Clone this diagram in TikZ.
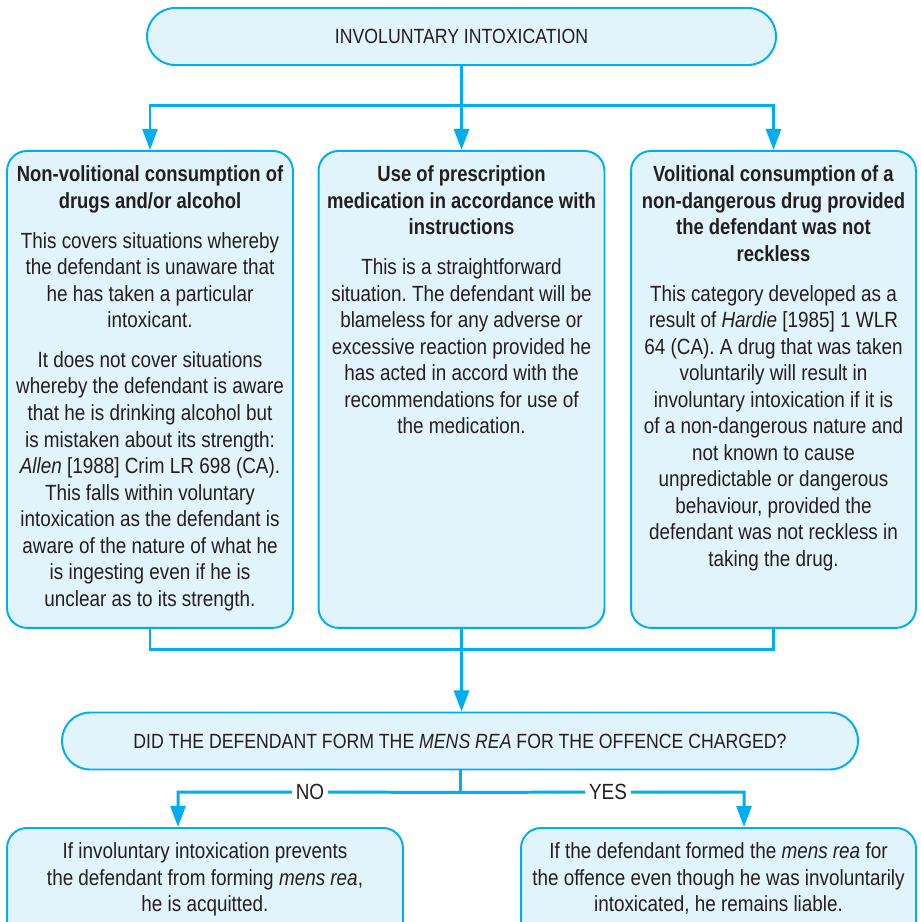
\documentclass[tikz,border=0pt]{standalone}
\usepackage{fontspec}
\setmainfont{Liberation Sans}[FakeStretch=0.86, BoldFeatures={FakeStretch=0.84}]
\usepackage{xcolor}
\usepackage{tikz}
\usetikzlibrary{positioning, arrows.meta}

\definecolor{boxblue}{HTML}{E1F3FB}
\definecolor{lineblue}{HTML}{00AEEF}
\definecolor{inkgrey}{HTML}{231F20}

\newcommand{\panel}[3]{\parbox[t][#2][t]{#1}{\centering\vspace*{0.3cm}#3}}

\begin{document}
\frenchspacing
\begin{tikzpicture}[
    x=0.02cm, y=-0.02cm,
    every node/.style={text=inkgrey, font=\fontsize{12.5}{15.1}\selectfont},
    heading/.style={rectangle, draw=lineblue, fill=boxblue, line width=1.1pt, rounded corners=0.56cm, minimum height=1.14cm, align=center, font=\fontsize{11.7}{14}\selectfont},
    panel/.style={rectangle, draw=lineblue, fill=boxblue, line width=1.1pt, rounded corners=0.4cm, inner sep=0pt, anchor=north},
    link/.style={draw=lineblue, line width=1.7pt},
    flow/.style={link, -{Triangle[length=12pt, width=8.5pt]}},
    answer/.style={fill=white, inner sep=2pt}
]
\useasboundingbox (0,0) rectangle (920,922);

\node[heading, minimum width=12.58cm] (involuntary) at (461.5,36.5) {INVOLUNTARY INTOXICATION};

\node[panel] (nonvol) at (150,150) {\panel{5.72cm}{9.54cm}{%
\textbf{Non-volitional consumption of}\\
\textbf{drugs and/or alcohol}\\[7.5pt]
This covers situations whereby\\
the defendant is unaware that\\
he has taken a particular\\
intoxicant.\\[7.5pt]
It does not cover situations\\
whereby the defendant is aware\\
that he is drinking alcohol but\\
is mistaken about its strength:\\
\textit{Allen} [1988] Crim LR 698 (CA).\\
This falls within voluntary\\
intoxication as the defendant is\\
aware of the nature of what he\\
is ingesting even if he is\\
unclear as to its strength.}};
\node[panel] (prescription) at (461.5,150) {\panel{5.72cm}{9.54cm}{%
\textbf{Use of prescription}\\
\textbf{medication in accordance with}\\
\textbf{instructions}\\[7.5pt]
This is a straightforward\\
situation. The defendant will be\\
blameless for any adverse or\\
excessive reaction provided he\\
has acted in accord with the\\
recommendations for use of\\
the medication.}};
\node[panel] (volitional) at (773.5,150) {\panel{5.7cm}{9.54cm}{%
\textbf{Volitional consumption of a}\\
\textbf{non-dangerous drug provided}\\
\textbf{the defendant was not}\\
\textbf{reckless}\\[7.5pt]
This category developed as a\\
result of \textit{Hardie} [1985] 1 WLR\\
64 (CA). A drug that was taken\\
voluntarily will result in\\
involuntary intoxication if it is\\
of a non-dangerous nature and\\
not known to cause\\
unpredictable or dangerous\\
behaviour, provided the\\
defendant was not reckless in\\
taking the drug.}};

\node[heading, minimum width=15.92cm] (mensrea) at (460,741) {DID THE DEFENDANT FORM THE \textit{MENS REA} FOR THE OFFENCE CHARGED?};

\node[panel] (acquitted) at (205,827) {\panel{7.92cm}{2.3cm}{%
If involuntary intoxication prevents\\
the defendant from forming \textit{mens rea},\\
he is acquitted.}};
\node[panel] (liable) at (718.5,827) {\panel{7.9cm}{2.3cm}{%
If the defendant formed the \textit{mens rea} for\\
the offence even though he was involuntarily\\
intoxicated, he remains liable.}};

\coordinate (fork) at ([yshift=-0.8cm]involuntary.south);
\coordinate (join) at ([yshift=-0.42cm]prescription.south);
\coordinate (branch) at ([yshift=-0.44cm]mensrea.south);

\draw[link] (involuntary.south) -- (fork);
\draw[flow] (fork) -| (nonvol.north);
\draw[flow] (fork) -- (prescription.north);
\draw[flow] (fork) -| (volitional.north);

\draw[link] (nonvol.south) |- (join) -| (volitional.south);
\draw[flow] (prescription.south) -- (prescription.south |- mensrea.north);

\node[answer] (no) at (310,792) {NO};
\node[answer] (yes) at (608,792) {YES};
\draw[link] (mensrea.south) -- (branch);
\draw[flow] (branch) -- (no) -| ([xshift=-0.54cm]acquitted.north);
\draw[flow] (branch) -- (yes) -| ([xshift=0.51cm]liable.north);
\end{tikzpicture}
\end{document}
